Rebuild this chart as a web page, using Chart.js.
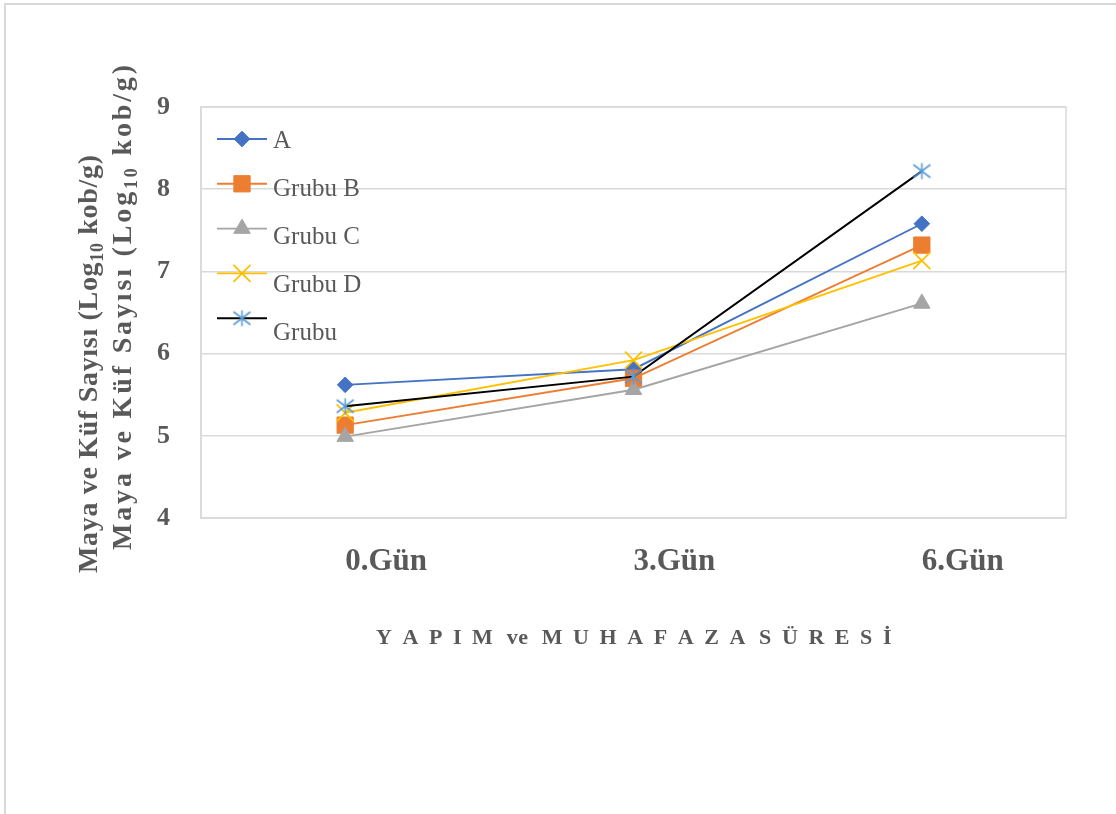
<!DOCTYPE html>
<html>
<head>
<meta charset="utf-8">
<script src="https://cdn.jsdelivr.net/npm/chart.js@4.4.1/dist/chart.umd.min.js"></script>
<style>
  html, body { margin: 0; padding: 0; background: #ffffff; }
  #wrap { position: relative; width: 1116px; height: 814px; }
  canvas { display: block; }
</style>
</head>
<body>
<div id="wrap"><canvas id="chart" width="1116" height="814"></canvas></div>
<script>
// Storage days and yeast & mould counts (log10 cfu/g) per group
const categories = ['0.Gün', '3.Gün', '6.Gün'];
const seriesNames = ['A', 'Grubu B', 'Grubu C', 'Grubu D', 'Grubu'];
const groupA = [5.62, 5.81, 7.58];
const groupB = [5.13, 5.70, 7.32];
const groupC = [4.99, 5.56, 6.61];
const groupD = [5.28, 5.92, 7.13];
const groupE = [5.36, 5.72, 8.22];
const yTicks = [4, 5, 6, 7, 8, 9];
const yTitleMain = 'Maya ve Küf Sayısı (Log';
const yTitleSub = '10';
const yTitleEnd = ' kob/g)';
const xTitleWords = ['YAPIM', 've', 'MUHAFAZA', 'SÜRESİ'];

const TEXT = '#595959';
const GRID = '#D9D9D9';
const SERIF = '"Liberation Serif", "Times New Roman", serif';

// Excel-like asterisk marker: one vertical bar crossed by an X
function asteriskMarker(color, dx, dy, vy, lw) {
  const s = Math.ceil(Math.max(dx, vy) * 2 + lw * 2 + 2);
  const c = document.createElement('canvas');
  c.width = s; c.height = s;
  const g = c.getContext('2d');
  const m = s / 2;
  g.strokeStyle = color;
  g.lineWidth = lw;
  g.beginPath();
  g.moveTo(m, m - vy); g.lineTo(m, m + vy);
  g.moveTo(m - dx, m - dy); g.lineTo(m + dx, m + dy);
  g.moveTo(m + dx, m - dy); g.lineTo(m - dx, m + dy);
  g.stroke();
  return c;
}
const starImg = asteriskMarker('#5B9BD5', 8.5, 6.5, 8, 1.6);

function ds(label, data, color, style, radius, pointColor, order, fill) {
  return {
    label, data, order,
    borderColor: color,
    borderWidth: 1.9,
    backgroundColor: fill ? pointColor : 'transparent',
    pointStyle: style,
    pointRadius: radius,
    pointHoverRadius: radius,
    pointBackgroundColor: pointColor,
    pointBorderColor: pointColor,
    pointBorderWidth: fill ? 1 : 1.8,
    tension: 0,
    fill: false
  };
}

const datasets = [
  ds(seriesNames[0], groupA, '#4472C4', 'rectRot', 7.8, '#4472C4', 4, true),
  ds(seriesNames[1], groupB, '#ED7D31', 'rect', 11.5, '#ED7D31', 3, true),
  ds(seriesNames[2], groupC, '#A5A5A5', 'triangle', 9.5, '#A5A5A5', 2, true),
  ds(seriesNames[3], groupD, '#FFC000', 'crossRot', 12, '#FFC000', 1, false),
  ds(seriesNames[4], groupE, '#000000', starImg, 9, '#5B9BD5', 0, false)
];

function drawMarker(ctx, d, x, y) {
  ctx.save();
  ctx.fillStyle = d.pointBackgroundColor;
  ctx.strokeStyle = d.pointBorderColor;
  ctx.lineWidth = d.pointBorderWidth;
  const opts = { pointStyle: d.pointStyle, radius: d.pointRadius, borderWidth: d.pointBorderWidth, rotation: 0 };
  if (Chart.helpers && Chart.helpers.drawPoint) {
    Chart.helpers.drawPoint(ctx, opts, x, y);
  } else if (typeof d.pointStyle === 'object') {
    ctx.drawImage(d.pointStyle, x - d.pointStyle.width / 2, y - d.pointStyle.height / 2);
  }
  ctx.restore();
}

// Outer frame, plot-area box
const framePlugin = {
  id: 'frame',
  beforeDraw(chart) {
    const { ctx, width, height } = chart;
    ctx.save();
    ctx.fillStyle = '#ffffff';
    ctx.fillRect(0, 0, width, height);
    ctx.strokeStyle = GRID;
    ctx.lineWidth = 2;
    ctx.beginPath();
    ctx.moveTo(5, height); ctx.lineTo(5, 4); ctx.lineTo(width, 4);
    ctx.stroke();
    ctx.restore();
  },
  beforeDatasetsDraw(chart) {
    const { ctx, chartArea: a } = chart;
    ctx.save();
    ctx.strokeStyle = GRID;
    ctx.lineWidth = 1.5;
    ctx.strokeRect(a.left, a.top, a.right - a.left, a.bottom - a.top);
    ctx.restore();
  }
};

// Legend inside the plot area, top-left
const legendPlugin = {
  id: 'insideLegend',
  afterDatasetsDraw(chart) {
    const { ctx, chartArea: a } = chart;
    const x0 = a.left + 16, x1 = a.left + 66, xm = (x0 + x1) / 2;
    ctx.save();
    chart.data.datasets.forEach((d, i) => {
      const my = a.top + 32 + i * 44.8;
      ctx.strokeStyle = d.borderColor;
      ctx.lineWidth = d.borderWidth;
      ctx.beginPath();
      ctx.moveTo(x0, my); ctx.lineTo(x1, my);
      ctx.stroke();
      drawMarker(ctx, d, xm, my);
      ctx.fillStyle = TEXT;
      ctx.font = '25px ' + SERIF;
      ctx.textAlign = 'left';
      ctx.textBaseline = 'alphabetic';
      ctx.fillText(d.label, a.left + 72, a.top + 41 + i * 48);
    });
    ctx.restore();
  }
};

// Rotated y title line with subscript, stretched to a given length
function drawYTitleLine(ctx, x, y, size, length) {
  const parts = [
    { t: yTitleMain, f: 'bold ' + size + 'px ' + SERIF, dy: 0 },
    { t: yTitleSub, f: 'bold ' + Math.round(size * 0.65) + 'px ' + SERIF, dy: size * 0.22 },
    { t: yTitleEnd, f: 'bold ' + size + 'px ' + SERIF, dy: 0 }
  ];
  let natural = 0, count = 0;
  parts.forEach(p => {
    ctx.font = p.f;
    for (const ch of p.t) { natural += ctx.measureText(ch).width; count++; }
  });
  const sp = (length - natural) / (count - 1);
  ctx.save();
  ctx.translate(x, y);
  ctx.rotate(-Math.PI / 2);
  ctx.textAlign = 'left';
  ctx.textBaseline = 'alphabetic';
  let cx = 0;
  parts.forEach(p => {
    ctx.font = p.f;
    for (const ch of p.t) {
      ctx.fillText(ch, cx, p.dy);
      cx += ctx.measureText(ch).width + sp;
    }
  });
  ctx.restore();
}

// Letter-spaced x title, centred under the plot
function drawXTitle(ctx, cx, y, length) {
  ctx.font = 'bold 22px ' + SERIF;
  ctx.textAlign = 'left';
  ctx.textBaseline = 'alphabetic';
  const wordGapFactor = 1.3;
  let letters = 0, gaps = 0;
  xTitleWords.forEach((w, wi) => {
    for (const ch of w) letters += ctx.measureText(ch).width;
    if (w !== 've') gaps += w.length - 1;
    if (wi < xTitleWords.length - 1) gaps += wordGapFactor;
  });
  const g = (length - letters) / gaps;
  let x = cx - length / 2;
  xTitleWords.forEach((w, wi) => {
    const chars = [...w];
    chars.forEach((ch, ci) => {
      ctx.fillText(ch, x, y);
      x += ctx.measureText(ch).width;
      if (ci < chars.length - 1) x += (w === 've' ? 0.5 : g);
    });
    if (wi < xTitleWords.length - 1) x += g * wordGapFactor;
  });
}

const titlesPlugin = {
  id: 'axisTitles',
  afterDraw(chart) {
    const { ctx, chartArea: a } = chart;
    ctx.save();
    ctx.fillStyle = TEXT;
    drawYTitleLine(ctx, 97, 573, 28, 418);
    drawYTitleLine(ctx, 131, 550, 28, 485);
    drawXTitle(ctx, (a.left + a.right) / 2, 644, 515);
    ctx.restore();
  }
};

new Chart(document.getElementById('chart').getContext('2d'), {
  type: 'line',
  data: { labels: categories, datasets },
  options: {
    responsive: false,
    animation: false,
    devicePixelRatio: 1,
    layout: { padding: { top: 107, right: 50, left: 0, bottom: 0 } },
    plugins: {
      legend: { display: false },
      tooltip: { enabled: false },
      title: { display: false }
    },
    scales: {
      x: {
        offset: true,
        grid: { display: false, drawTicks: false },
        border: { display: true, color: GRID, width: 1.5 },
        ticks: {
          align: 'start',
          padding: 25,
          autoSkip: false,
          maxRotation: 0,
          color: TEXT,
          font: { family: SERIF, size: 31, weight: 'bold' }
        },
        afterFit(scale) { scale.height = 296; }
      },
      y: {
        min: yTicks[0],
        max: yTicks[yTicks.length - 1],
        afterBuildTicks(scale) { scale.ticks = yTicks.map(v => ({ value: v })); },
        grid: { color: GRID, lineWidth: 1.5, drawTicks: false },
        border: { display: true, color: GRID, width: 1.5 },
        ticks: {
          padding: 31,
          color: TEXT,
          font: { family: SERIF, size: 26, weight: 'bold' }
        },
        afterFit(scale) { scale.width = 201; }
      }
    }
  },
  plugins: [framePlugin, legendPlugin, titlesPlugin]
});
</script>
</body>
</html>
